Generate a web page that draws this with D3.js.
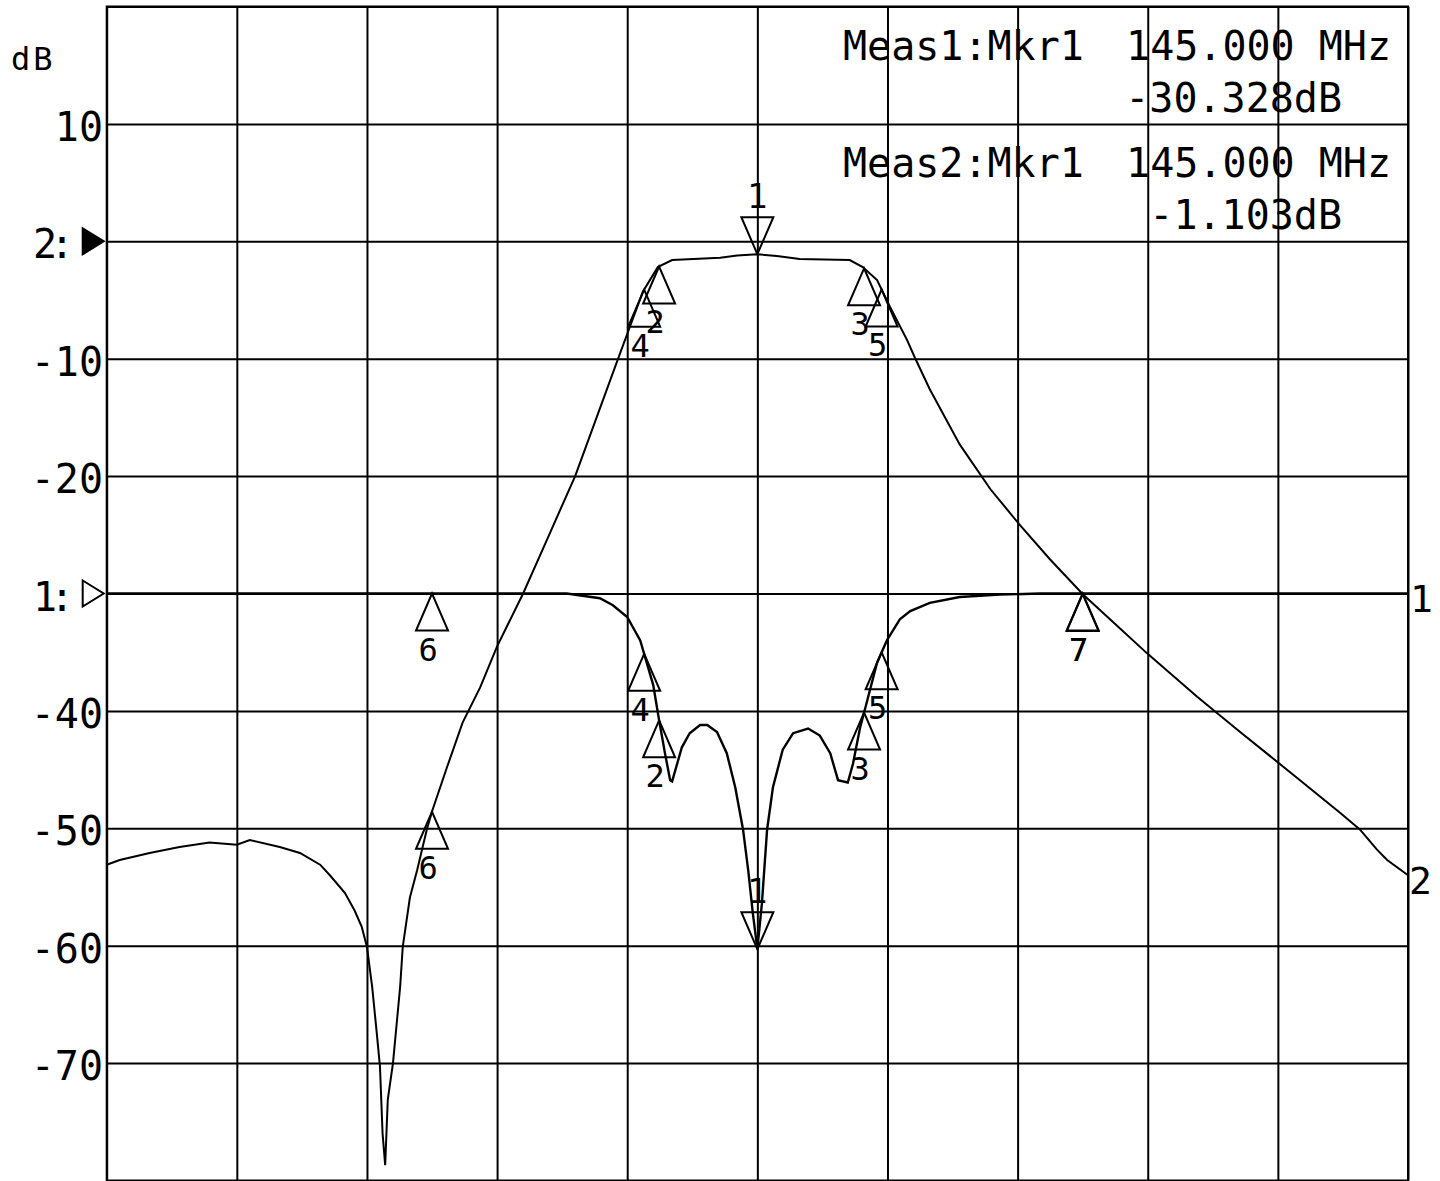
<!DOCTYPE html>
<html>
<head>
<meta charset="utf-8">
<script src="https://cdn.jsdelivr.net/npm/d3@7"></script>
<style>
  html, body { margin: 0; padding: 0; background: #fff; }
  svg { display: block; }
  text { font-family: "DejaVu Sans Mono", "Liberation Mono", monospace; fill: #000; }
</style>
</head>
<body>
<svg id="chart" width="1440" height="1181"></svg>
<script>
// ---------------- data ----------------
// frequency axis (MHz), 10 divisions, centre 145 MHz
const freqStart = 135, freqStop = 155, freqStep = 2;
// display scale in dB (10 dB / div)
const dbTop = 20, dbBottom = -80, dbStep = 10;

const yTickValues = [10, 0, -10, -20, -30, -40, -50, -60, -70];
const yTickLabels = ["10", "2:", "-10", "-20", "1:", "-40", "-50", "-60", "-70"];
const refMarkers = [ { value: 0, filled: true }, { value: -30, filled: false } ];

// Trace 2 (transmission) — display dB
const trace2Freq = [135.00,135.20,135.66,136.12,136.58,137.00,137.20,137.66,137.97,138.28,138.43,138.66,138.81,138.92,139.00,139.08,139.15,139.20,139.24,139.28,139.32,139.40,139.51,139.55,139.66,139.77,139.92,140.01,140.23,140.47,140.74,141.00,141.40,141.80,142.20,142.53,142.86,143.04,143.24,143.47,143.69,144.43,144.69,145.00,145.30,145.65,146.42,146.62,146.84,147.04,147.30,147.42,147.65,148.11,148.58,149.04,149.50,150.01,150.42,150.99,151.76,152.42,153.34,153.96,154.26,154.52,154.68,155.00];
const trace2Db   = [-53.1,-52.7,-52.1,-51.6,-51.2,-51.4,-51.0,-51.6,-52.1,-53.1,-54.0,-55.5,-57.0,-58.4,-60.1,-63.5,-67.4,-70.3,-76.0,-78.7,-73.1,-70.0,-63.5,-60.1,-55.9,-53.6,-50.1,-48.4,-44.8,-41.0,-38.0,-34.5,-30.0,-25.0,-20.0,-15.0,-10.0,-7.3,-4.3,-2.2,-1.6,-1.4,-1.2,-1.1,-1.25,-1.5,-1.6,-2.2,-3.3,-5.6,-8.4,-9.9,-12.6,-17.3,-21.1,-24.2,-27.1,-30.1,-32.2,-35.1,-38.8,-41.8,-45.9,-48.7,-50.1,-51.8,-52.7,-54.0];

// Trace 1 (reflection) — display dB (reference at -30 line)
const trace1Freq = [135.00,139.97,142.07,142.58,142.78,143.00,143.20,143.40,143.49,143.58,143.66,143.69,143.84,143.96,144.12,144.23,144.38,144.53,144.66,144.78,144.86,144.93,145.00,145.07,145.15,145.24,145.39,145.55,145.78,145.96,146.12,146.24,146.39,146.47,146.58,146.68,146.84,146.99,147.19,147.35,147.65,148.11,148.73,149.34,155.00];
const trace1Db   = [-30.0,-30.0,-30.0,-30.4,-31.0,-32.0,-34.0,-37.8,-40.8,-43.6,-45.9,-46.0,-43.1,-41.9,-41.2,-41.2,-41.8,-43.6,-46.5,-50.1,-53.6,-57.2,-60.3,-56.4,-50.1,-46.5,-43.3,-41.9,-41.5,-42.1,-43.6,-45.9,-46.1,-44.5,-41.4,-39.3,-35.9,-34.0,-32.2,-31.5,-30.8,-30.3,-30.1,-30.0,-30.0];

// markers (shared frequencies)
const markerIds   = ["1", "2", "3", "4", "5", "6", "7"];
const markerFreqs = [145.00, 143.49, 146.64, 143.26, 146.91, 140.00, 150.00];

// readouts
const readoutLines = [
  { left: "Meas1:Mkr1", right: "145.000 MHz" },
  { left: "",           right: "-30.328dB" },
  { left: "Meas2:Mkr1", right: "145.000 MHz" },
  { left: "",           right: "-1.103dB" }
];

// ---------------- drawing ----------------
const svg = d3.select("#chart");
const plot = { left: 106.7, right: 1408, top: 6.5, bottom: 1180.5 };

const x = d3.scaleLinear().domain([freqStart, freqStop]).range([plot.left, plot.right]);
const y = d3.scaleLinear().domain([dbBottom, dbTop]).range([plot.bottom, plot.top]);

const g = svg.append("g");

// grid via axes
const xGridVals = d3.range(freqStart, freqStop + 0.001, freqStep);
const yGridVals = d3.range(dbBottom, dbTop + 0.001, dbStep);

g.append("g")
  .attr("transform", `translate(0,${plot.bottom})`)
  .call(d3.axisBottom(x).tickValues(xGridVals).tickSize(-(plot.bottom - plot.top)).tickFormat(""))
  .call(a => a.select(".domain").remove())
  .call(a => a.selectAll("line").attr("stroke", "#000").attr("stroke-width", 2));

g.append("g")
  .attr("transform", `translate(${plot.left},0)`)
  .call(d3.axisLeft(y).tickValues(yGridVals).tickSize(-(plot.right - plot.left)).tickFormat(""))
  .call(a => a.select(".domain").remove())
  .call(a => a.selectAll("line").attr("stroke", "#000").attr("stroke-width", 2));

g.append("rect")
  .attr("x", plot.left).attr("y", plot.top)
  .attr("width", plot.right - plot.left).attr("height", plot.bottom - plot.top)
  .attr("fill", "none").attr("stroke", "#000").attr("stroke-width", 2);

// y labels
const fs = 40;
g.selectAll("text.ylab")
  .data(yTickValues.map((v, i) => ({ v, t: yTickLabels[i] })))
  .join("text")
  .attr("class", "ylab")
  .attr("x", d => d.t.endsWith(":") ? 33 : 103)
  .attr("y", d => y(d.v) + 17)
  .attr("text-anchor", d => d.t.endsWith(":") ? "start" : "end")
  .attr("letter-spacing", d => d.t.endsWith(":") ? -7 : 0)
  .attr("font-size", fs)
  .text(d => d.t);

// reference triangles
g.selectAll("path.ref")
  .data(refMarkers)
  .join("path")
  .attr("class", "ref")
  .attr("d", d => {
    const yy = y(d.value), tip = plot.left - 3;
    return `M${tip - 21},${yy - 13} L${tip},${yy} L${tip - 21},${yy + 13} Z`;
  })
  .attr("fill", d => d.filled ? "#000" : "#fff")
  .attr("stroke", "#000").attr("stroke-width", 2);

// "dB" unit
g.append("text").attr("x", 11).attr("y", 70).attr("font-size", 32)
  .attr("letter-spacing", 3).text("dB");

// traces
const line = d3.line().x(d => x(d[0])).y(d => y(d[1]));
const t1 = trace1Freq.map((f, i) => [f, trace1Db[i]]);
const t2 = trace2Freq.map((f, i) => [f, trace2Db[i]]);

g.append("path").datum(t1).attr("d", line)
  .attr("fill", "none").attr("stroke", "#000").attr("stroke-width", 2.4);
g.append("path").datum(t2).attr("d", line)
  .attr("fill", "none").attr("stroke", "#000").attr("stroke-width", 2);

// trace end labels
g.append("text").attr("x", plot.right + 2).attr("y", y(trace1Db[trace1Db.length - 1]) + 18)
  .attr("font-size", 38).text("1");
g.append("text").attr("x", plot.right + 1).attr("y", y(trace2Db[trace2Db.length - 1]) + 19)
  .attr("font-size", 38).text("2");

// marker placement by interpolation along traces
function valueAt(freqs, dbs, f) {
  const i = d3.bisectLeft(freqs, f);
  if (i <= 0) return dbs[0];
  if (i >= freqs.length) return dbs[dbs.length - 1];
  const f0 = freqs[i - 1], f1 = freqs[i];
  const t = (f - f0) / (f1 - f0);
  return dbs[i - 1] + t * (dbs[i] - dbs[i - 1]);
}

const markers = [];
markerIds.forEach((id, i) => {
  const f = markerFreqs[i];
  markers.push({ id, f, db: valueAt(trace1Freq, trace1Db, f) });
  markers.push({ id, f, db: valueAt(trace2Freq, trace2Db, f) });
});

const triW = 16, triH = 37;
const mg = g.append("g");
markers.forEach(m => {
  const px = x(m.f), py = y(m.db);
  if (m.id === "1") {
    mg.append("path")
      .attr("d", `M${px},${py} L${px - triW},${py - triH} L${px + triW},${py - triH} Z`)
      .attr("fill", "none").attr("stroke", "#000").attr("stroke-width", 2);
    mg.append("text").attr("x", px).attr("y", py - triH - 9)
      .attr("text-anchor", "middle").attr("font-size", 34).text(m.id);
  } else {
    mg.append("path")
      .attr("d", `M${px},${py} L${px - triW},${py + triH} L${px + triW},${py + triH} Z`)
      .attr("fill", "none").attr("stroke", "#000").attr("stroke-width", 2);
    mg.append("text").attr("x", px - 4).attr("y", py + triH + 30)
      .attr("text-anchor", "middle").attr("font-size", 32).text(m.id);
  }
});

// readouts
const ro = g.append("g");
const roY = [60, 112, 177, 229];
readoutLines.forEach((r, i) => {
  if (r.left) ro.append("text").attr("x", 843).attr("y", roY[i]).attr("font-size", fs).text(r.left);
  const rx = r.right.endsWith("MHz") ? 1391 : 1342;
  ro.append("text").attr("x", rx).attr("y", roY[i]).attr("text-anchor", "end")
    .attr("font-size", fs).text(r.right);
});
</script>
</body>
</html>
